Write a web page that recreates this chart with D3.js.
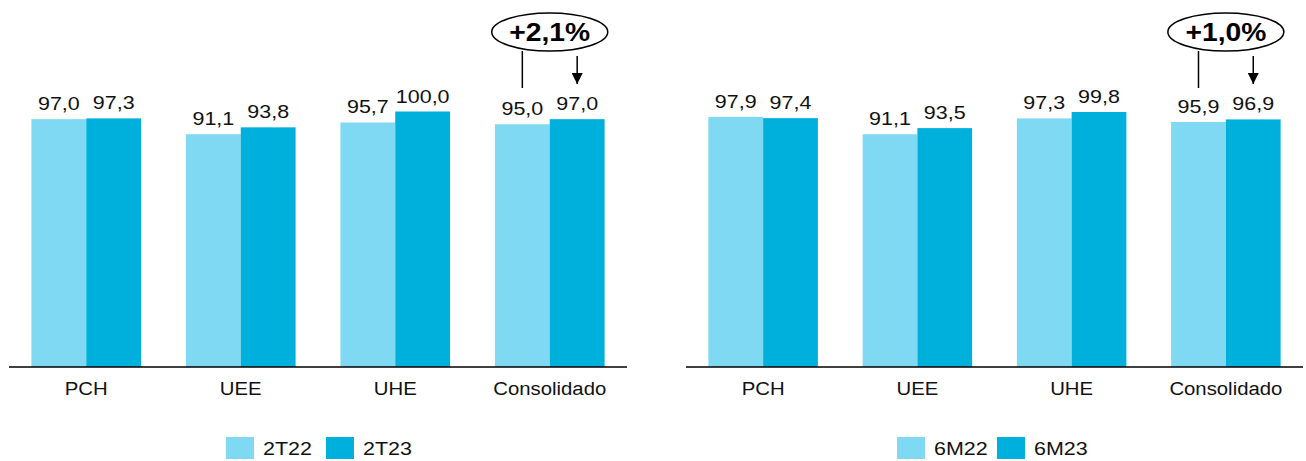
<!DOCTYPE html>
<html>
<head>
<meta charset="utf-8">
<script src="https://cdn.jsdelivr.net/npm/d3@7"></script>
<style>
  body { margin: 0; background: #fff; }
  svg { display: block; font-family: 'Liberation Sans', Arial, sans-serif; }
</style>
</head>
<body>
<svg id="chart" width="1306" height="461"></svg>
<script>
const categories = ['PCH', 'UEE', 'UHE', 'Consolidado'];

const quarterSeries = ['2T22', '2T23'];
const values2T22 = [97.0, 91.1, 95.7, 95.0];
const values2T23 = [97.3, 93.8, 100.0, 97.0];
const quarterChange = '+2,1%';

const halfSeries = ['6M22', '6M23'];
const values6M22 = [97.9, 91.1, 97.3, 95.9];
const values6M23 = [97.4, 93.5, 99.8, 96.9];
const halfChange = '+1,0%';

const colors = ['#80d9f2', '#00b0dc'];
const fmt = v => d3.format('.1f')(v).replace('.', ',');
// the source text is a bit wider than Arial, stretch it horizontally
const stretch = 1.13;
const place = (tx, ty) => `translate(${tx},${ty}) scale(${stretch},1)`;

const svg = d3.select('#chart');
const baseY = 367;
const y = d3.scaleLinear().domain([0, 100]).range([baseY, 111.5]);

svg.append('defs').append('marker')
    .attr('id', 'arrow')
    .attr('viewBox', '0 0 10 10')
    .attr('refX', 10)
    .attr('refY', 5)
    .attr('markerWidth', 11)
    .attr('markerHeight', 11)
    .attr('markerUnits', 'userSpaceOnUse')
    .attr('orient', 'auto')
    .append('path')
    .attr('d', 'M0,0 L10,5 L0,10 Z')
    .attr('fill', '#000');

function drawPanel(x0, x1, series, first, second, change, legendX) {
    const g = svg.append('g');
    const x = d3.scaleBand().domain(categories).range([x0, x1]).paddingInner(0.29).paddingOuter(0.145);
    const xs = d3.scaleBand().domain([0, 1]).range([0, x.bandwidth()]);

    const rows = categories.map((c, i) => ({ c, v: [first[i], second[i]] }));

    const grp = g.selectAll('g.cat').data(rows).enter().append('g')
        .attr('transform', d => `translate(${x(d.c)},0)`);

    grp.selectAll('rect').data(d => d.v).enter().append('rect')
        .attr('x', (d, i) => xs(i))
        .attr('width', xs.bandwidth())
        .attr('y', d => y(d))
        .attr('height', d => baseY - y(d))
        .attr('fill', (d, i) => colors[i]);

    grp.selectAll('text').data(d => d.v).enter().append('text')
        .attr('transform', (d, i) => place(xs(i) + xs.bandwidth() / 2, y(d) - 9))
        .attr('text-anchor', 'middle')
        .attr('font-size', 19)
        .attr('fill', '#111')
        .text(d => fmt(d));

    g.append('line')
        .attr('x1', x0).attr('x2', x1)
        .attr('y1', baseY).attr('y2', baseY)
        .attr('stroke', '#000').attr('stroke-width', 1.5);

    g.selectAll('text.cat').data(categories).enter().append('text')
        .attr('class', 'cat')
        .attr('transform', d => place(x(d) + x.bandwidth() / 2, 395))
        .attr('text-anchor', 'middle')
        .attr('font-size', 18)
        .attr('fill', '#111')
        .text(d => d);

    // change bubble over Consolidado
    const last = categories[categories.length - 1];
    const lx = x(last) + xs(0) + xs.bandwidth() / 2;
    const rx = x(last) + xs(1) + xs.bandwidth() / 2;
    const cx = (lx + rx) / 2;
    g.append('ellipse')
        .attr('cx', cx).attr('cy', 32)
        .attr('rx', 58).attr('ry', 19)
        .attr('fill', '#fff').attr('stroke', '#000').attr('stroke-width', 1.5);
    g.append('text')
        .attr('transform', place(cx, 41))
        .attr('text-anchor', 'middle')
        .attr('font-size', 25).attr('font-weight', 'bold')
        .text(change);
    g.append('line')
        .attr('x1', lx).attr('x2', lx)
        .attr('y1', 51).attr('y2', 88)
        .attr('stroke', '#000').attr('stroke-width', 1.5);
    g.append('line')
        .attr('x1', rx).attr('x2', rx)
        .attr('y1', 56).attr('y2', 84)
        .attr('stroke', '#000').attr('stroke-width', 1.5)
        .attr('marker-end', 'url(#arrow)');

    // legend
    const lg = g.selectAll('g.leg').data(series).enter().append('g')
        .attr('transform', (d, i) => `translate(${legendX + i * 100},437)`);
    lg.append('rect').attr('width', 28).attr('height', 22).attr('fill', (d, i) => colors[i]);
    lg.append('text').attr('transform', place(37, 18)).attr('font-size', 19).attr('fill', '#111').text(d => d);
}

drawPanel(9, 627, quarterSeries, values2T22, values2T23, quarterChange, 226);
drawPanel(686, 1303, halfSeries, values6M22, values6M23, halfChange, 897);
</script>
</body>
</html>
